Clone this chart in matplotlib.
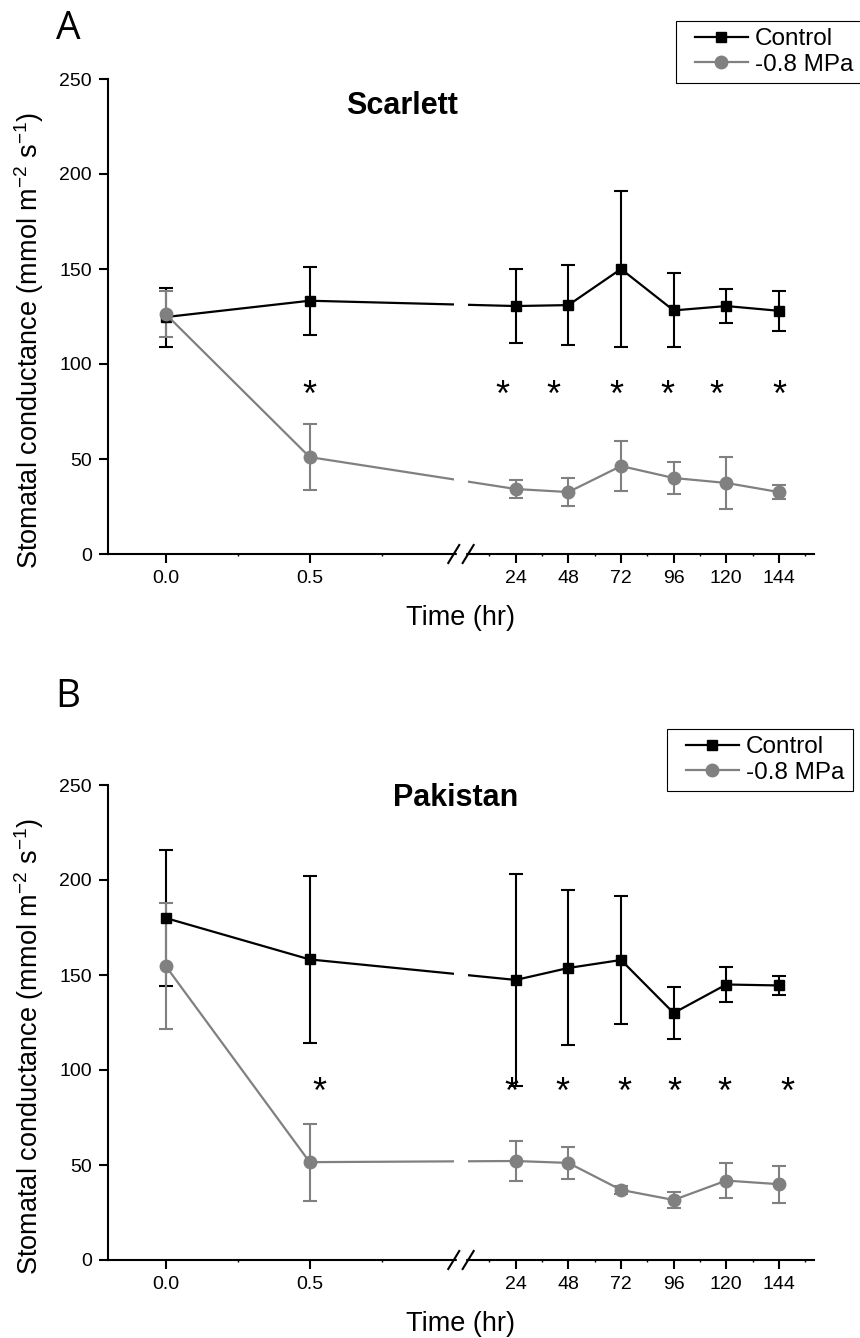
import numpy as np
import matplotlib.pyplot as plt
from matplotlib.lines import Line2D
from matplotlib.patches import Rectangle

plt.rcParams['font.family'] = ['Liberation Sans', 'DejaVu Sans']
plt.rcParams['mathtext.fontset'] = 'custom'
plt.rcParams['mathtext.rm'] = 'Liberation Sans'
plt.rcParams['mathtext.it'] = 'Liberation Sans:italic'
plt.rcParams['mathtext.bf'] = 'Liberation Sans:bold'

# ---- data ----
time_hr = [0.0, 0.5, 24, 48, 72, 96, 120, 144]
tick_labels = ['0.0', '0.5', '24', '48', '72', '96', '120', '144']
minor_ticks = [0.25, 0.75, 12, 36, 60, 84, 108, 132, 156]

scar_ctrl = [124.7, 133.3, 130.5, 131.0, 150.0, 128.2, 130.5, 128.0]
scar_ctrl_err = [15.5, 18.0, 19.5, 21.0, 41.0, 19.5, 9.0, 10.5]
scar_stress = [126.3, 51.0, 34.2, 32.6, 46.3, 40.0, 37.4, 32.6]
scar_stress_err = [12.0, 17.3, 4.5, 7.3, 13.0, 8.4, 13.5, 3.7]
scar_star_x = [0.5, 18, 41, 70, 93, 115.5, 144]
scar_star_y = 78

pak_ctrl = [180.0, 158.2, 147.4, 153.7, 157.9, 130.0, 145.0, 144.5]
pak_ctrl_err = [35.8, 44.0, 55.8, 40.8, 33.7, 13.5, 9.3, 5.2]
pak_stress = [154.8, 51.5, 52.1, 51.1, 36.9, 31.6, 41.8, 39.9]
pak_stress_err = [33.0, 20.3, 10.7, 8.4, 2.2, 4.2, 9.0, 9.8]
pak_star_x = [0.535, 22.2, 45.3, 73.4, 96.5, 119, 148]
pak_star_y = 82.5

# broken time axis: piecewise linear scale
brk_x = [-0.2, 1.0, 2.3, 160.0]
brk_u = [-0.2, 1.0, 1.05, 2.2503]


def fwd(x):
    return np.interp(x, brk_x, brk_u)


def inv(u):
    return np.interp(u, brk_u, brk_x)


GREY = '#808080'
W, H = 860, 1338

fig = plt.figure(figsize=(W / 100, H / 100), dpi=100)
legends = []


def panel(top_px, ctrl, ctrl_err, stress, stress_err, star_x, star_y,
          name, name_xy, letter, letter_y, leg_box):
    ax = fig.add_axes([108 / W, (H - top_px - 475) / H, 706 / W, 475 / H])
    ax.set_xscale('function', functions=(fwd, inv))

    ax.errorbar(time_hr, ctrl, yerr=ctrl_err, fmt='none', ecolor='black',
                elinewidth=1.5, capsize=5, capthick=1.5, zorder=2)
    ax.errorbar(time_hr, stress, yerr=stress_err, fmt='none', ecolor=GREY,
                elinewidth=1.5, capsize=5, capthick=1.5, zorder=2)
    ax.plot(time_hr, ctrl, '-s', color='black', lw=1.6, ms=7, zorder=2)
    ax.plot(time_hr, stress, '-o', color=GREY, lw=1.6, ms=9, zorder=2)

    # gap in the data lines at the axis break
    ax.axvspan(brk_x[1], brk_x[2], ymin=0.01, ymax=1, color='white',
               lw=0, zorder=2.2)

    for sx in star_x:
        ax.text(sx, star_y, '*', fontsize=26, ha='center', va='baseline')

    ax.set_xlim(brk_x[0], brk_x[-1])
    ax.set_ylim(0, 250)
    ax.set_xticks(time_hr)
    ax.set_xticklabels(tick_labels)
    ax.set_xticks(minor_ticks, minor=True)
    ax.set_yticks([0, 50, 100, 150, 200, 250])
    ax.tick_params(axis='both', which='major', direction='out', length=6.5,
                   width=1.5, labelsize=14, pad=5)
    ax.tick_params(axis='x', which='minor', direction='out', length=1.5,
                   width=1)
    for s in ['top', 'right']:
        ax.spines[s].set_visible(False)
    for s in ['left', 'bottom']:
        ax.spines[s].set_linewidth(1.5)

    # break marks on the x axis
    span = fwd(brk_x[-1]) - fwd(brk_x[0])
    xa = (fwd(brk_x[1]) - fwd(brk_x[0])) / span
    xb = (fwd(brk_x[2]) - fwd(brk_x[0])) / span
    ax.add_patch(Rectangle((xa + 0.004, -0.012), xb - xa - 0.008, 0.024,
                           transform=ax.transAxes, color='white',
                           clip_on=False, zorder=3))
    dx, dy = 5.5 / 706, 9 / 475
    for xc in (xa, xb):
        ax.plot([xc - dx, xc + dx], [-dy, dy], color='black', lw=1.5,
                transform=ax.transAxes, clip_on=False, zorder=4)

    ax.set_ylabel('Stomatal conductance (mmol m$^{-2}$ s$^{-1}$)',
                  fontsize=19.5)
    ax.yaxis.set_label_coords(-0.088, 0.45)
    ax.set_xlabel('Time (hr)', fontsize=19.5)
    ax.xaxis.set_label_coords(0.5, -0.108)

    ax.text(name_xy[0], name_xy[1], name, transform=ax.transAxes,
            ha='center', va='center', fontsize=22, fontweight='bold')

    fig.text(68 / W, 1 - letter_y / H, letter, fontsize=28, ha='center',
             va='center', family=['Open Sans', 'DejaVu Sans'])

    handles = [Line2D([], [], color='black', marker='s', lw=1.6, ms=7),
               Line2D([], [], color=GREY, marker='o', lw=1.6, ms=9)]
    leg = ax.legend(handles, ['Control', '-0.8 MPa'], loc='upper left',
                    bbox_to_anchor=((leg_box[0] + 12) / W, 1 - leg_box[1] / H),
                    bbox_transform=fig.transFigure, borderaxespad=0,
                    fontsize=17.5, frameon=False, handlelength=2.15,
                    handletextpad=0.3, borderpad=0.3, labelspacing=0.15)
    legends.append((leg, leg_box[0]))
    return ax


panel(79, scar_ctrl, scar_ctrl_err, scar_stress, scar_stress_err,
      scar_star_x, scar_star_y, 'Scarlett', (0.417, 0.943), 'A', 29,
      (676, 21))
panel(785, pak_ctrl, pak_ctrl_err, pak_stress, pak_stress_err,
      pak_star_x, pak_star_y, 'Pakistan', (0.492, 0.972), 'B', 697,
      (667, 729))

# legend frames: box with extra room on the left of the handles
fig.canvas.draw()
for leg, left_px in legends:
    bb = leg.get_window_extent()
    fig.add_artist(Rectangle((left_px / W, bb.y0 / H),
                             (bb.x1 + 1 - left_px) / W, bb.height / H,
                             transform=fig.transFigure, fill=False,
                             edgecolor='black', lw=0.8))

fig.savefig('out.png', dpi=100)
